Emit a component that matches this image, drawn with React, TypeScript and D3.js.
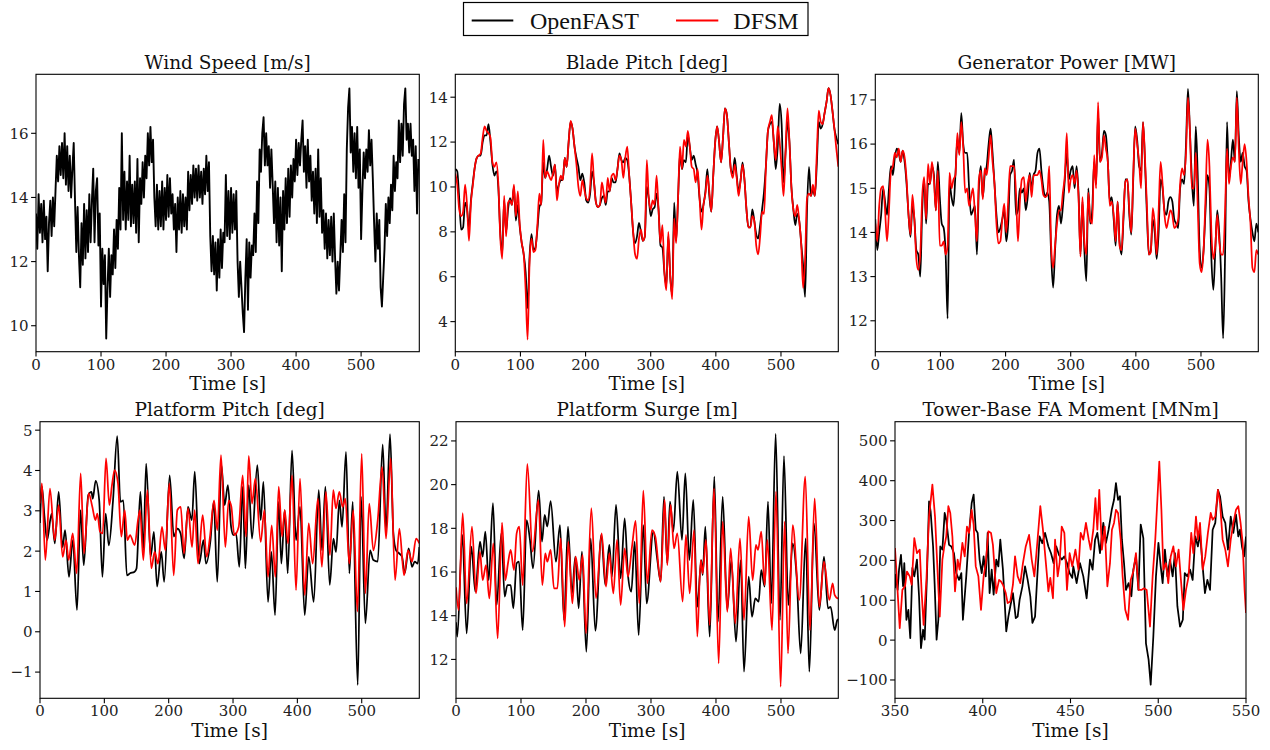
import React from 'react';
import * as d3 from 'd3';

// ---------------- DATA ----------------
const WIND_STEP = 2; // seconds between samples of the wind record
const T_STEP = 3; // seconds between samples of blade pitch / generator power

const windSpeedOF = [
  13.5,12.4,14.1,12.9,13.8,12.6,13.9,12.7,13.4,11.7,
  13.2,13.9,12.8,14.0,13.1,14.2,15.3,14.5,15.6,14.7,
  15.7,14.6,16.0,14.4,15.6,14.2,15.3,14.0,14.9,15.7,
  13.9,12.3,13.7,12.2,11.2,13.2,11.9,13.8,12.1,13.6,
  12.3,14.1,12.6,13.9,14.9,12.6,14.2,14.6,12.5,13.5,
  10.6,12.4,11.3,12.2,9.6,11.2,12.4,10.9,12.2,11.6,
  13.0,11.8,13.3,12.4,14.3,13.0,16.0,13.3,14.8,13.0,
  14.5,13.3,15.3,13.1,14.4,13.2,14.5,12.9,15.2,12.6,
  14.6,13.8,15.1,14.0,15.3,14.6,16.0,15.0,16.2,15.1,
  15.8,14.0,13.1,14.4,13.0,14.2,13.1,14.5,13.0,14.3,
  13.3,14.7,13.4,14.6,13.5,14.1,13.0,13.8,12.3,14.0,
  13.0,14.2,12.9,14.1,13.1,14.0,13.0,14.8,13.6,14.7,
  13.8,15.0,14.0,14.9,13.9,15.0,14.0,14.8,13.8,14.9,
  14.1,15.3,14.2,15.1,12.8,11.7,12.8,11.6,12.6,11.1,
  12.7,11.5,13.0,11.8,12.9,12.6,14.7,12.8,14.2,12.7,
  14.3,12.9,14.1,13.0,14.2,12.0,10.9,12.0,11.2,10.4,
  9.8,11.5,12.7,10.5,12.6,11.5,12.5,12.2,13.5,12.3,
  14.5,13.2,15.5,14.8,16.0,16.5,15.0,16.0,15.0,15.6,
  14.3,15.5,14.4,13.2,14.5,12.6,14.3,12.5,14.0,11.7,
  14.2,13.0,14.6,13.2,14.9,13.4,15.0,14.0,15.2,14.5,
  15.8,14.7,15.7,15.0,15.8,16.4,14.8,15.6,14.3,15.8,
  14.5,15.3,13.9,14.8,13.5,14.9,13.2,15.5,13.4,14.6,
  12.9,13.6,12.4,13.5,12.1,13.3,12.2,13.4,12.0,13.5,
  12.1,11.0,12.0,11.1,12.2,13.3,12.3,14.1,12.6,15.5,
  16.8,17.4,15.4,16.2,14.8,16.0,14.6,16.2,14.3,15.5,
  12.7,14.2,15.4,14.6,15.5,14.8,16.1,15.0,15.8,14.6,
  13.2,12.0,13.5,12.4,13.3,11.2,10.6,11.5,12.4,13.8,
  12.8,14.0,13.2,14.4,13.6,15.3,14.2,15.1,14.6,16.4,
  15.1,16.3,15.3,16.9,17.4,15.8,16.3,15.4,16.3,15.3,
  15.8,14.2,15.6,13.5,15.2,
];

const bladePitchOF = [
  10.8,10.7,9.5,8.1,8.2,9.3,9.0,8.2,9.4,10.2,
  10.9,11.3,11.4,11.4,12.0,12.3,12.3,12.8,12.0,11.0,
  10.5,10.7,10.0,8.0,7.0,9.4,8.0,9.0,9.5,9.2,
  10.0,8.5,9.2,8.2,7.5,7.0,6.2,4.6,6.9,7.9,
  7.2,7.3,8.1,9.1,9.3,11.1,10.4,10.8,11.4,10.9,
  10.5,11.0,9.8,10.1,10.3,10.3,11.3,10.9,12.0,12.9,
  12.6,11.8,11.3,10.9,10.3,10.6,10.2,9.4,9.3,9.7,
  10.7,10.2,9.3,9.1,9.2,9.5,9.6,9.2,9.8,9.8,
  10.4,10.2,10.2,10.8,11.5,11.2,11.1,11.3,11.2,10.5,
  9.3,8.0,7.5,7.8,8.4,8.0,7.6,7.8,10.0,9.5,
  8.7,9.0,9.1,9.7,9.0,7.4,7.3,6.2,5.6,7.8,
  6.0,5.2,9.3,7.6,9.5,11.5,10.8,11.2,11.1,12.3,
  11.8,11.2,11.4,11.0,10.6,9.5,8.9,9.2,9.8,10.8,
  9.6,8.9,10.5,12.0,12.7,12.0,11.1,12.2,13.5,13.2,
  12.0,10.8,10.6,11.3,10.5,9.8,10.3,11.1,10.3,9.0,
  8.2,8.2,9.0,8.5,7.9,7.7,8.3,9.0,9.8,11.0,
  12.5,12.8,12.9,12.0,10.8,11.8,13.7,12.8,10.2,11.5,
  12.9,12.0,10.0,9.0,8.3,8.8,8.5,7.5,6.5,5.1,
  9.0,10.9,9.6,9.9,9.6,11.0,12.9,12.6,12.8,13.3,
  13.8,14.4,14.1,13.4,12.6,12.2,11.9,
];

const bladePitchDFSM = [
  10.6,10.1,9.0,8.7,8.9,10.1,9.2,7.6,9.3,10.1,
  10.9,11.3,11.4,11.5,12.2,12.7,12.5,12.4,12.2,11.1,
  10.9,11.1,10.2,7.8,6.8,9.6,7.8,9.3,9.4,9.2,
  10.1,8.7,9.8,8.3,7.5,7.0,5.4,3.2,6.6,7.7,
  7.1,7.2,8.3,9.7,9.2,12.1,10.4,10.7,10.5,10.3,
  10.6,11.0,9.4,10.1,10.5,10.3,11.3,10.9,12.0,12.95,
  12.6,11.8,11.0,10.0,9.6,10.3,9.9,9.5,9.4,10.0,
  11.5,10.2,9.3,9.1,9.2,10.2,9.7,9.3,10.4,9.8,
  10.5,10.6,10.3,10.8,11.4,11.2,10.4,11.3,11.8,10.5,
  9.3,8.0,7.0,6.8,7.7,8.1,7.6,7.8,11.2,9.5,
  9.0,9.4,9.2,10.5,9.0,7.5,8.3,6.2,5.4,8.0,
  6.0,5.0,8.6,7.5,9.5,11.8,10.8,12.1,11.8,12.5,
  11.8,10.9,10.8,10.2,10.8,9.5,8.1,9.2,9.7,10.5,
  9.8,8.9,10.5,12.0,12.7,12.0,11.1,12.2,13.5,13.2,
  12.0,10.8,10.4,11.0,10.4,9.6,10.3,11.0,10.3,9.0,
  8.2,8.2,8.7,8.5,7.4,7.0,7.8,8.9,8.8,11.0,
  12.5,12.9,13.2,12.0,11.2,12.7,12.0,10.8,9.6,11.6,
  13.5,12.0,10.0,9.0,8.7,9.2,8.5,7.5,5.5,6.8,
  9.5,9.7,9.6,10.1,9.6,11.5,13.4,12.9,12.8,13.3,
  13.8,14.4,14.1,13.4,12.6,11.7,10.9,
];

const genPowerOF = [
  14.3,13.6,14.0,14.4,15.0,14.7,14.4,15.0,15.5,15.3,
  15.7,15.9,15.8,15.6,15.85,15.6,15.1,14.4,13.9,14.6,
  14.3,13.6,13.5,13.0,14.5,15.2,14.2,15.1,15.1,15.5,
  15.3,14.5,15.6,14.8,14.2,14.1,13.5,12.05,15.1,14.8,
  14.6,15.3,16.1,15.8,16.7,16.0,15.8,15.8,15.0,14.4,
  14.5,14.6,13.5,15.0,15.5,14.8,15.3,15.5,16.0,16.35,
  15.8,15.1,14.4,14.0,14.1,14.3,14.5,13.8,14.2,15.3,
  15.4,15.65,14.4,14.5,15.0,14.9,15.0,14.5,14.8,15.35,
  15.0,15.3,15.4,15.8,15.9,15.4,15.0,14.8,14.9,14.7,
  13.5,12.75,13.6,14.4,14.6,14.2,14.6,15.2,15.8,15.2,
  15.4,15.5,15.0,15.5,14.9,13.5,14.7,13.6,12.9,15.0,
  14.2,14.5,15.6,15.1,16.7,15.6,15.8,16.3,16.2,15.6,
  14.7,14.8,14.3,13.7,14.7,13.8,13.5,14.3,15.2,15.2,
  14.4,13.95,15.2,16.4,16.1,15.5,15.4,16.5,15.6,14.4,
  13.5,13.6,14.3,14.0,13.4,14.0,15.2,15.0,14.5,14.4,
  14.7,14.8,14.7,14.3,14.2,14.1,15.0,15.2,15.1,16.0,
  17.25,16.3,15.2,14.6,16.4,15.3,13.6,13.2,13.6,14.5,
  15.3,15.0,13.4,12.7,13.6,14.5,14.0,13.0,11.6,13.5,
  16.5,15.2,15.6,16.1,15.6,17.2,16.2,15.6,15.8,15.5,
  15.4,14.7,14.3,14.0,13.8,14.2,14.0,
];

const genPowerDFSM = [
  14.2,13.8,14.6,15.0,15.05,14.5,13.8,14.5,15.4,15.5,
  15.8,15.7,15.9,15.6,15.85,15.7,15.2,14.4,13.95,14.85,
  14.3,13.4,13.15,13.5,14.8,15.25,14.3,15.55,15.1,15.6,
  15.2,14.5,15.4,13.7,13.7,13.8,13.5,13.7,15.35,15.0,
  15.2,15.3,16.25,15.75,16.5,15.9,14.9,15.0,14.6,14.8,
  15.0,14.4,13.8,15.2,15.4,14.75,15.45,15.3,15.7,16.2,
  15.6,15.1,14.2,13.75,13.8,14.3,14.65,14.0,14.7,15.5,
  15.5,15.5,14.9,13.8,14.7,15.2,15.25,14.7,15.1,15.3,
  14.8,15.3,15.3,15.3,15.4,15.2,14.85,14.8,14.85,15.5,
  13.7,13.2,13.7,14.2,14.5,14.5,14.9,15.3,16.25,14.9,
  15.2,15.3,15.1,15.4,14.8,13.45,14.8,13.8,13.5,14.9,
  14.3,14.2,15.75,15.0,16.95,15.6,15.7,16.2,15.9,15.6,
  14.6,14.7,14.4,13.8,14.7,13.7,13.6,14.4,15.15,15.2,
  14.5,14.0,15.3,16.35,16.0,15.6,15.0,16.5,15.7,14.6,
  13.5,13.55,14.55,14.2,13.5,14.5,15.6,15.1,14.4,14.1,
  14.3,14.5,14.4,14.1,14.15,14.3,15.1,15.45,15.3,15.8,
  17.05,16.3,15.0,15.0,15.8,14.6,13.3,13.1,13.6,14.8,
  16.1,15.5,14.0,13.4,13.7,14.4,13.8,13.5,13.5,14.5,
  15.9,15.1,15.5,15.7,15.6,17.05,15.9,15.1,15.6,16.0,
  15.6,14.8,14.2,13.2,13.1,13.6,13.5,
];

// [time s, value] pairs
const ptfmPitchOF: [number, number][] = [
  [0,2.7],[3,3.6],[7,2.85],[11,2.27],[18,2.93],[23,2.19],[29,3.47],[35,2.1],[39,2.52],[45,1.36],
  [51,2.27],[57.5,0.54],[63,3.02],[68,1.65],[75,3.39],[80,3.47],[82,3.3],[86.5,3.74],[92,3.26],[97,1.36],
  [102,2.93],[107,2.14],[113.5,3.26],[120,4.85],[125,3.22],[129.5,3.26],[135,1.4],[140,1.45],[147,1.49],[150,1.57],
  [156,3.47],[160.5,2.02],[165,4.17],[172,1.86],[177,2.48],[182,1.12],[188.5,1.98],[193,1.24],[201.5,3.88],[208,2.36],
  [213.5,2.56],[218.5,2.44],[224,1.82],[230,3.1],[236,2.77],[240.5,3.97],[247.5,1.69],[254,2.27],[258,1.69],[265,2.27],
  [270,3.22],[275.5,1.24],[282,4.13],[287,3.14],[292,3.64],[297,2.6],[300.5,2.4],[304.7,2.44],[309.8,1.61],[315,3.6],
  [319.2,1.57],[324.4,3.64],[329.5,2.31],[337.8,4.13],[343,2.77],[347.2,3.72],[354.4,0.74],[359.6,1.98],[365.3,0.41],[371,3.22],
  [375.1,1.69],[380.3,3.02],[385,1.45],[391.7,4.5],[397.9,2.27],[404.1,3.1],[411.4,0.41],[417.6,1.86],[425.4,0.74],[433.2,3.51],
  [438.3,2.02],[443.5,3.6],[450.3,1.16],[456,2.31],[460.1,1.98],[465.3,3.26],[469.4,2.6],[475.6,4.46],[480.8,1.45],[486,3.22],
  [493.8,-1.32],[499,3.35],[505.7,0.21],[513,2.02],[518.1,1.78],[524.9,1.74],[532.6,4.65],[537.8,2.52],[544,4.9],[549.2,2.44],
  [553.4,2.02],[558.5,1.94],[562.7,1.86],[566.8,1.45],[573,2.07],[578.2,1.61],[582.4,1.74],[587,1.69],[589.6,2.1],
];

const ptfmPitchDFSM: [number, number][] = [
  [0,3.18],[3,3.68],[8.3,1.78],[15.5,3.55],[22.8,2.27],[29,3.14],[35.2,1.86],[40.4,2.27],[44.6,1.78],[50.8,2.44],
  [57,1.45],[63.2,3.93],[68.4,1.94],[75.6,3.43],[81.3,3.1],[86,2.77],[89.1,2.93],[93.3,2.48],[97.4,2.44],[102.6,4.3],
  [107.8,3.14],[111.9,3.64],[116,4.01],[121.2,3.68],[126.4,2.36],[131.6,3.02],[135.8,2.27],[139.9,2.4],[147.2,2.15],[152.3,2.77],
  [155.4,3.02],[160.6,1.78],[166.8,3.51],[173,1.57],[178.2,1.98],[183.4,1.69],[189.6,2.6],[194.8,2.02],[201,3.68],[207.8,1.4],
  [213.5,3.02],[218.7,3.1],[223.8,1.94],[230.1,3.06],[236.3,2.1],[240.4,3.02],[245.6,1.69],[252.8,2.89],[259.1,1.86],[264.2,2.36],
  [270.5,3.26],[275.6,2.52],[281.3,4.38],[288,2.1],[293.3,3.26],[297.4,3.1],[302,2.4],[308.8,2.6],[315,3.88],[320.2,2.36],
  [324.4,4.36],[329.5,3.18],[334.7,3.8],[343,2.23],[348.7,3.02],[354.4,1.36],[360.1,2.64],[365.8,1.36],[371,3.6],[376.2,2.36],
  [380.3,3.02],[385.5,2.19],[391.7,3.88],[397.9,1.03],[404.1,3.8],[411.4,0.91],[417.6,2.69],[423.8,1.69],[431.9,3.3],[438.1,1.61],
  [444.3,3.47],[450.6,1.9],[455.8,3.51],[460,3.06],[465.2,3.47],[470.3,3.1],[474.5,3.3],[480.7,1.69],[486.9,3.02],[493.3,0.5],
  [500,4.42],[505.7,0.95],[511.7,3.18],[518.1,2.02],[524.9,2.77],[531.7,4.09],[537.8,2.31],[545,4.3],[551.8,1.28],[558.5,2.56],
  [565.8,1.4],[572,2.02],[578.2,1.74],[584.5,2.31],[589.6,2.19],
];

const ptfmSurgeOF: [number, number][] = [
  [0,13.7],[2,13.04],[9.7,17.7],[16.4,13.19],[23.6,17.16],[29.7,15.1],[36.9,17.39],[41,16.7],[45.1,17.85],[50.3,15.63],
  [56.9,19.15],[62.6,14.49],[69.7,17.77],[74.9,14.87],[79,15.4],[84.1,15.4],[88.2,14.34],[93.3,16.4],[96.9,16.47],[102.6,13.34],
  [108.7,18.38],[113.8,17.47],[118.5,16.17],[127.2,19.73],[132.3,17.39],[136.4,18.61],[140.5,18.08],[145.6,19.25],[153.8,16.47],[160,18.15],
  [166.2,13.8],[172.3,18.08],[178.5,15.02],[183.6,16.7],[188.7,14.34],[193.8,16.93],[200.5,12.35],[207.2,17.54],[214.4,13.31],[223.6,17.7],
  [229.7,15.4],[235.9,17.24],[240,15.79],[246.2,19.07],[253.3,15.71],[259.5,18.46],[264.6,15.86],[269.7,15.1],[274.9,17.39],[281,13.11],
  [288.2,18.15],[293.3,14.56],[303.6,17.85],[309.8,16.55],[314.9,15.56],[320,19.45],[325.1,16.4],[329.2,19.22],[334.4,17.85],[340.5,20.6],
  [347.7,17.47],[352.8,20.52],[359,16.55],[365.1,19.3],[371.3,14.41],[377.4,16.55],[379.5,15.86],[383.6,18.08],[390.3,13.04],[397.4,20.37],
  [403.1,13.73],[410.3,19.45],[417.4,14.26],[423.6,16.55],[430.8,12.81],[438,16.55],[443.1,11.44],[450.3,15.79],[455.4,13.95],[460.5,14.79],
  [465.6,14.64],[469.7,16.09],[474.9,15.33],[480,19.22],[485.1,14.56],[491.8,22.32],[498.5,13.8],[504.6,21.31],[511.3,14.49],[518,17.31],
  [524.1,15.79],[530.3,12.27],[538,17.54],[543.6,11.44],[550.8,18.23],[559,14.26],[566.2,16.7],[572.3,14.34],[576.4,14.41],[582.6,13.34],
  [586.7,13.8],[589,13.85],
];

const ptfmSurgeDFSM: [number, number][] = [
  [0,15.3],[4,14.26],[10.3,18.69],[16.4,14.56],[24.6,18.08],[30.8,15.02],[36.9,16.93],[41,15.63],[46.2,16.32],[51.3,14.79],
  [57.4,17.31],[64.1,12.96],[70.8,18.26],[75.9,15.63],[80,16.4],[84.1,17.01],[89.2,16.09],[93.3,17.77],[97.4,18.08],[102.6,15.4],
  [109.7,20.95],[117.9,16.93],[126.7,19.3],[132.8,15.4],[137.4,16.85],[140.5,16.47],[145.6,17.01],[150.8,15.25],[155.9,15.25],[161,17.54],
  [167.2,13.5],[172.8,17.39],[179,14.56],[184.1,16.7],[189.7,15.63],[194.9,16.78],[200,13.19],[208.2,18.92],[215.4,14.79],[224.1,17.77],
  [230.8,15.33],[235.9,16.85],[242.1,15.02],[247.7,17.47],[253.3,14.49],[259.5,17.08],[264.6,15.79],[270.8,17.16],[276.4,18.34],[282,14.56],
  [288.2,19.73],[294.4,15.48],[301.5,17.92],[306.7,17.62],[314.9,15.56],[321,19.3],[325.1,16.32],[330.3,19.07],[335.4,17.08],[340.5,17.77],
  [348.7,14.64],[353.8,17.7],[359.5,15.02],[366.2,17.92],[371.3,13.04],[376.4,16.55],[379.5,15.94],[384.6,17.47],[390.3,13.57],[397,19.83],
  [404.1,11.82],[410.3,18.31],[417.4,14.18],[422.6,17.08],[429.7,13.65],[436.9,17.54],[443.1,13.8],[450.3,18.53],[456.4,15.63],[461.5,17.24],
  [464.6,17.01],[469.7,17.85],[474.9,15.4],[479,17.47],[486.2,13.34],[492.3,19.68],[499.5,10.75],[505.6,18.31],[510.8,12.27],[518,18.15],
  [528.2,14.72],[537.4,20.37],[544.6,13.34],[551.8,19.37],[559,14.41],[566.2,16.47],[574.4,14.72],[579.5,15.48],[582.6,14.95],[587.7,14.79],
  [589,14.8],
];

const towerMomentOF: [number, number][] = [
  [350,130],[350.4,164],[351.5,126],[352.3,177],[353.4,214],[354.6,135],[355.3,193],[356.5,51],[357.6,76],[358.7,5],
  [359.9,181],[361,160],[362.5,202],[363.7,110],[364.8,-20],[366,26],[366.9,1],[368.2,160],[369.4,348],[370.3,323],
  [371.7,235],[372.6,139],[373.7,1],[374.7,51],[375.8,235],[377,227],[378.3,319],[379.2,302],[380.8,239],[382.1,235],
  [383.6,218],[384.9,168],[386.5,151],[387.8,168],[388.7,51],[390.6,160],[392.2,269],[393.7,344],[394.8,365],[396,277],
  [397.1,269],[398.2,202],[399.4,168],[400.5,210],[401.7,160],[402.8,269],[403.9,118],[405.1,177],[406.2,114],[407.7,202],
  [408.9,185],[410,252],[411.5,177],[413.4,22],[414.6,59],[415.7,85],[417.2,118],[418.8,55],[419.9,59],[421,101],
  [422.6,135],[424.1,185],[425.6,151],[427.1,110],[428.3,43],[429.8,59],[431.3,177],[432.4,260],[433.9,243],[435.5,269],
  [437.4,235],[438.9,218],[440.4,193],[441.9,235],[443.4,214],[445,202],[446.5,210],[448,193],[449.5,168],[451,156],
  [451.6,185],[453.5,143],[455.4,193],[457.3,160],[459.2,105],[461.1,202],[462.6,177],[464,252],[465.3,269],[466.8,218],
  [468.7,294],[470.2,244],[471.7,277],[473.5,327],[474.8,352],[475.9,394],[477.1,352],[478.2,361],[479.3,252],[480.5,193],
  [481.6,126],[483.1,143],[484.7,110],[485.8,177],[487.3,210],[488.7,126],[490,290],[491.5,256],[493,-8],[494.5,-49],
  [495.7,-112],[497.2,9],[498.7,160],[500.1,244],[501.4,185],[502.5,143],[503.8,227],[505.2,160],[506.7,202],[508.2,160],
  [509.5,218],[510.9,85],[512.4,34],[514,51],[515.1,168],[516.6,160],[518.1,177],[519.6,151],[521.1,260],[522.6,235],
  [523.8,269],[525.3,185],[526.6,118],[528,151],[529.5,126],[531,277],[532.5,294],[534,377],[535.2,361],[536.7,310],
  [538.2,294],[539.7,227],[541.3,310],[542.8,269],[544.3,315],[545.6,260],[546.6,277],[547.7,235],[548.9,210],[550,260],
];

const towerMomentDFSM: [number, number][] = [
  [350,231],[351.1,151],[352.7,30],[354.2,126],[355.7,135],[356.8,172],[358.4,160],[359.5,139],[361,256],[362.5,218],
  [364.1,227],[365.2,118],[366.3,38],[367.9,151],[369.4,310],[371.3,390],[372.8,310],[374.3,168],[375.5,59],[377,202],
  [378.1,235],[379.2,260],[380.4,336],[381.5,319],[382.7,260],[384.2,122],[385.7,202],[386.8,177],[388.4,244],[389.7,210],
  [391,285],[392.2,269],[393.7,327],[394.8,290],[396,185],[397.5,160],[399,76],[400.5,160],[401.7,193],[403.2,273],
  [404.7,269],[405.8,239],[407.7,118],[409.3,151],[410.4,147],[411.5,139],[413.1,118],[414.2,93],[415.7,97],[417.2,139],
  [418.4,210],[419.9,160],[421.4,143],[422.9,193],[424.5,235],[426.4,264],[427.9,202],[429.4,160],[430.5,214],[431.7,277],
  [432.8,336],[434.3,277],[435.8,202],[437.4,122],[438.5,156],[440,105],[441.2,252],[442.7,160],[443.8,193],[445,285],
  [446.5,269],[448,126],[449.5,218],[451,185],[452.8,227],[454.5,177],[455.8,269],[457.3,252],[458.8,294],[460.4,252],
  [461.5,227],[463,277],[464.2,356],[465.3,277],[466.4,377],[467.9,227],[469.5,285],[471,135],[472.5,193],[473.6,277],
  [474.8,294],[475.9,327],[477.1,319],[478.6,252],[479.7,160],[481.2,76],[482.8,51],[484.3,151],[485.8,172],[487.3,218],
  [488.8,126],[490.4,126],[491.9,130],[493.4,126],[495.3,34],[496.8,160],[498.3,252],[499.5,352],[500.6,448],[501.8,327],
  [502.9,177],[504.4,193],[505.7,143],[507.1,210],[508.6,235],[510.1,185],[511.6,227],[513.2,135],[514.3,76],[515.8,126],
  [517.3,160],[518.8,269],[520,218],[521.5,310],[522.6,252],[523.8,294],[525.3,177],[526.8,210],[528.3,269],[529.9,319],
  [531,302],[532.5,310],[534,377],[535.2,344],[536.7,252],[538.2,227],[539.7,185],[541.3,252],[542.8,294],[544.3,327],
  [545.6,336],[546.9,294],[548.1,244],[549.2,126],[550,68],
];

// tick labels
const timeTicks = [0, 100, 200, 300, 400, 500];
const momentTimeTicks = [350, 400, 450, 500, 550];
const windTicks = [10, 12, 14, 16];
const bladeTicks = [4, 6, 8, 10, 12, 14];
const powerTicks = [12, 13, 14, 15, 16, 17];
const ptfmPitchTicks = [-1, 0, 1, 2, 3, 4, 5];
const surgeTicks = [12, 14, 16, 18, 20, 22];
const momentTicks = [-100, 0, 100, 200, 300, 400, 500];

const legendLabels = ['OpenFAST', 'DFSM'];
const seriesColors = ['#000000', '#ff0000'];

// ---------------- LAYOUT ----------------
const uniform = (arr: number[], step: number): [number, number][] => arr.map((v, i) => [i * step, v]);

type Series = { data: [number, number][]; color: string; smooth: boolean; width: number };
type Panel = {
  title: string; left: number; right: number; top: number; bottom: number;
  xDomain: [number, number]; yDomain: [number, number];
  xTicks: number[]; yTicks: number[]; series: Series[];
};

const ROW1 = { top: 74.3, bottom: 351.7 };
const ROW2 = { top: 421.7, bottom: 698.3 };
const LW = 1.75;

const panels: Panel[] = [
  { title: 'Wind Speed [m/s]', left: 36, right: 419.3, ...ROW1, xDomain: [0, 589.5], yDomain: [9.19, 17.84],
    xTicks: timeTicks, yTicks: windTicks,
    series: [{ data: uniform(windSpeedOF, WIND_STEP), color: seriesColors[0], smooth: false, width: 1.9 }] },
  { title: 'Blade Pitch [deg]', left: 455.3, right: 838.3, ...ROW1, xDomain: [0, 588], yDomain: [2.66, 15.02],
    xTicks: timeTicks, yTicks: bladeTicks,
    series: [
      { data: uniform(bladePitchOF, T_STEP), color: seriesColors[0], smooth: true, width: LW },
      { data: uniform(bladePitchDFSM, T_STEP), color: seriesColors[1], smooth: true, width: LW },
    ] },
  { title: 'Generator Power [MW]', left: 875.3, right: 1258.3, ...ROW1, xDomain: [0, 588], yDomain: [11.3, 17.58],
    xTicks: timeTicks, yTicks: powerTicks,
    series: [
      { data: uniform(genPowerOF, T_STEP), color: seriesColors[0], smooth: true, width: LW },
      { data: uniform(genPowerDFSM, T_STEP), color: seriesColors[1], smooth: true, width: LW },
    ] },
  { title: 'Platform Pitch [deg]', left: 40, right: 419.3, ...ROW2, xDomain: [0, 589.5], yDomain: [-1.65, 5.21],
    xTicks: timeTicks, yTicks: ptfmPitchTicks,
    series: [
      { data: ptfmPitchOF, color: seriesColors[0], smooth: true, width: LW },
      { data: ptfmPitchDFSM, color: seriesColors[1], smooth: true, width: LW },
    ] },
  { title: 'Platform Surge [m]', left: 456, right: 838.3, ...ROW2, xDomain: [0, 588.2], yDomain: [10.22, 22.88],
    xTicks: timeTicks, yTicks: surgeTicks,
    series: [
      { data: ptfmSurgeOF, color: seriesColors[0], smooth: true, width: LW },
      { data: ptfmSurgeDFSM, color: seriesColors[1], smooth: true, width: LW },
    ] },
  { title: 'Tower-Base FA Moment [MNm]', left: 895, right: 1246, ...ROW2, xDomain: [350, 550], yDomain: [-146, 548],
    xTicks: momentTimeTicks, yTicks: momentTicks,
    series: [
      { data: towerMomentOF, color: seriesColors[0], smooth: false, width: LW },
      { data: towerMomentDFSM, color: seriesColors[1], smooth: false, width: LW },
    ] },
];

const FONT = "'DejaVu Serif', serif";
const fmt = (v: number) => (v < 0 ? '\u2212' + Math.abs(v) : String(v));

function PanelView({ p, idx }: { p: Panel; idx: number }) {
  const x = d3.scaleLinear().domain(p.xDomain).range([p.left, p.right]);
  const y = d3.scaleLinear().domain(p.yDomain).range([p.bottom, p.top]);
  const cx = (p.left + p.right) / 2;
  const clipId = `clip-${idx}`;
  return (
    <g>
      <defs>
        <clipPath id={clipId}>
          <rect x={p.left} y={p.top} width={p.right - p.left} height={p.bottom - p.top} />
        </clipPath>
      </defs>
      <g clipPath={`url(#${clipId})`}>
        {p.series.map((s, i) => {
          const line = d3.line<[number, number]>()
            .x(d => x(d[0]))
            .y(d => y(d[1]))
            .curve(s.smooth ? d3.curveMonotoneX : d3.curveLinear);
          return <path key={i} d={line(s.data) || ''} fill="none" stroke={s.color}
            strokeWidth={s.width} strokeLinejoin="round" />;
        })}
      </g>
      <rect x={p.left} y={p.top} width={p.right - p.left} height={p.bottom - p.top}
        fill="none" stroke="#000" strokeWidth={1.1} />
      {p.yTicks.map(t => (
        <g key={'y' + t}>
          <line x1={p.left - 4.9} x2={p.left} y1={y(t)} y2={y(t)} stroke="#000" strokeWidth={1.1} />
          <text x={p.left - 7.5} y={y(t)} dy="0.36em" textAnchor="end" fontFamily={FONT} fontSize={15} fill="#222">{fmt(t)}</text>
        </g>
      ))}
      {p.xTicks.map(t => (
        <g key={'x' + t}>
          <line x1={x(t)} x2={x(t)} y1={p.bottom} y2={p.bottom + 4.9} stroke="#000" strokeWidth={1.1} />
          <text x={x(t)} y={p.bottom + 18} textAnchor="middle" fontFamily={FONT} fontSize={15} fill="#222">{fmt(t)}</text>
        </g>
      ))}
      <text x={cx} y={p.top - 5.5} textAnchor="middle" fontFamily={FONT} fontSize={18.5} fill="#111">{p.title}</text>
      <text x={cx} y={p.bottom + 38.5} textAnchor="middle" fontFamily={FONT} fontSize={18.5} fill="#111">Time [s]</text>
    </g>
  );
}

export default function App() {
  return (
    <svg width={1270} height={750} style={{ position: 'absolute', left: 0, top: 0, background: '#fff' }}>
      <rect x={0} y={0} width={1270} height={750} fill="#fff" />
      {panels.map((p, i) => <PanelView key={i} p={p} idx={i} />)}
      <g>
        <rect x={463.5} y={2.5} width={344.5} height={33} fill="#fff" stroke="#000" strokeWidth={1.2} />
        <line x1={471.7} x2={513.3} y1={20.5} y2={20.5} stroke={seriesColors[0]} strokeWidth={2} />
        <text x={530} y={28.5} fontFamily="'Liberation Serif', serif" fontSize={24} fill="#111">{legendLabels[0]}</text>
        <line x1={676} x2={718.3} y1={20.5} y2={20.5} stroke={seriesColors[1]} strokeWidth={2} />
        <text x={733.3} y={28.5} fontFamily="'Liberation Serif', serif" fontSize={24} fill="#111">{legendLabels[1]}</text>
      </g>
    </svg>
  );
}
